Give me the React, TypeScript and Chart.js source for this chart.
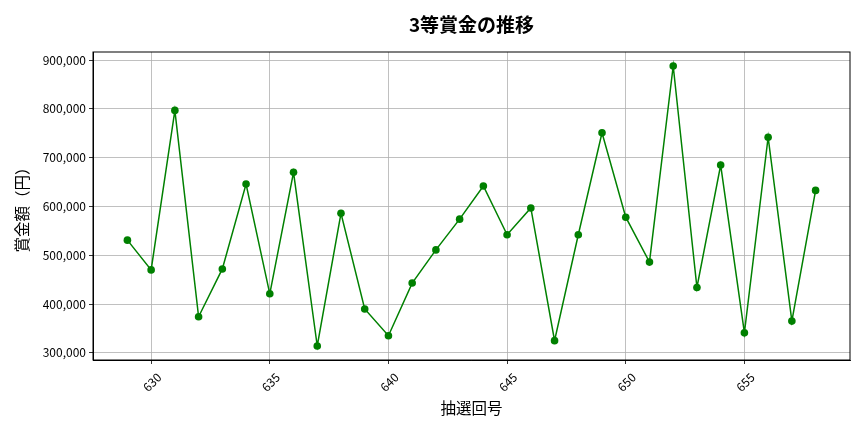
import { useEffect, useRef } from 'react'
import { Chart, registerables } from 'chart.js'

Chart.register(...registerables)

const drawNumbers = [
  629, 630, 631, 632, 633, 634, 635, 636, 637, 638, 639, 640, 641, 642, 643,
  644, 645, 646, 647, 648, 649, 650, 651, 652, 653, 654, 655, 656, 657, 658,
]
const prizeValues = [
  531000, 470000, 797000, 374000, 472000, 646000, 421000, 670000, 314000, 586000,
  390000, 335000, 443000, 511000, 574000, 642000, 542000, 597000, 325000, 542000,
  751000, 578000, 486000, 888000, 434000, 685000, 341000, 742000, 365000, 633000,
]
const xTicks = [630, 635, 640, 645, 650, 655]
const yTicks = [300000, 400000, 500000, 600000, 700000, 800000, 900000]
const chartTitle = '3等賞金の推移'

const FONT = '"Noto Sans CJK JP", "DejaVu Sans", sans-serif'

// top/right spines and a title centred over the axes, like matplotlib
const frame = {
  id: 'frame',
  afterDraw(chart: Chart) {
    const { ctx, chartArea } = chart
    ctx.save()
    ctx.strokeStyle = '#000'
    ctx.lineWidth = 1
    ctx.strokeRect(chartArea.left, chartArea.top, chartArea.right - chartArea.left, chartArea.bottom - chartArea.top)
    ctx.fillStyle = '#000'
    ctx.font = `bold 19px ${FONT}`
    ctx.textAlign = 'center'
    ctx.textBaseline = 'middle'
    ctx.fillText(chartTitle, (chartArea.left + chartArea.right) / 2, 25)
    ctx.restore()
  },
}

export default function App() {
  const chartRef = useRef<HTMLCanvasElement>(null)
  const chartInstance = useRef<Chart | null>(null)

  useEffect(() => {
    document.body.style.margin = '0'
    if (!chartRef.current) return
    if (chartInstance.current) chartInstance.current.destroy()

    const ctx = chartRef.current.getContext('2d')
    if (!ctx) return

    const xmin = drawNumbers[0]
    const xmax = drawNumbers[drawNumbers.length - 1]
    const xpad = (xmax - xmin) * 0.05
    const ymin = Math.min(...prizeValues)
    const ymax = Math.max(...prizeValues)
    const ypad = (ymax - ymin) * 0.05

    chartInstance.current = new Chart(ctx, {
      type: 'line',
      data: {
        datasets: [{
          label: '3等賞金',
          data: drawNumbers.map((n, i) => ({ x: n, y: prizeValues[i] })),
          borderColor: '#008000',
          backgroundColor: '#008000',
          borderWidth: 1.5,
          pointRadius: 3.8,
          pointBorderWidth: 0,
          tension: 0,
        }],
      },
      options: {
        animation: false,
        responsive: true,
        maintainAspectRatio: false,
        layout: { padding: { left: 0, right: 14, top: 52, bottom: 0 } },
        plugins: {
          legend: { display: false },
          tooltip: { enabled: false },
          title: { display: false },
        },
        scales: {
          x: {
            type: 'linear',
            min: xmin - xpad,
            max: xmax + xpad,
            afterBuildTicks: (axis: any) => { axis.ticks = xTicks.map(v => ({ value: v })) },
            afterFit: (axis: any) => { axis.height = 72 },
            ticks: {
              color: '#000',
              font: { family: FONT, size: 12 },
              minRotation: 45,
              maxRotation: 45,
              padding: 6,
              labelOffset: 8,
              callback: (v: any) => String(v),
            },
            grid: { color: '#b0b0b0', lineWidth: 0.8, tickColor: '#000', tickLength: 4 },
            border: { color: '#000', width: 1 },
            title: {
              display: true,
              text: '抽選回号',
              color: '#000',
              font: { family: FONT, size: 15.5 },
              padding: { top: 0, bottom: 15 },
            },
          },
          y: {
            type: 'linear',
            min: ymin - ypad,
            max: ymax + ypad,
            afterBuildTicks: (axis: any) => { axis.ticks = yTicks.map(v => ({ value: v })) },
            afterFit: (axis: any) => { axis.width = 93 },
            ticks: {
              color: '#000',
              font: { family: FONT, size: 12 },
              padding: 3,
              callback: (v: any) => Number(v).toLocaleString('en-US'),
            },
            grid: { color: '#b0b0b0', lineWidth: 0.8, tickColor: '#000', tickLength: 4 },
            border: { color: '#000', width: 1 },
            title: {
              display: true,
              text: '賞金額（円）',
              color: '#000',
              font: { family: FONT, size: 15.5 },
              padding: { top: 13, bottom: 0 },
            },
          },
        },
      },
      plugins: [frame],
    })

    return () => {
      if (chartInstance.current) {
        chartInstance.current.destroy()
        chartInstance.current = null
      }
    }
  }, [])

  return (
    <div style={{ width: '864px', height: '432px' }}>
      <canvas ref={chartRef}></canvas>
    </div>
  )
}
